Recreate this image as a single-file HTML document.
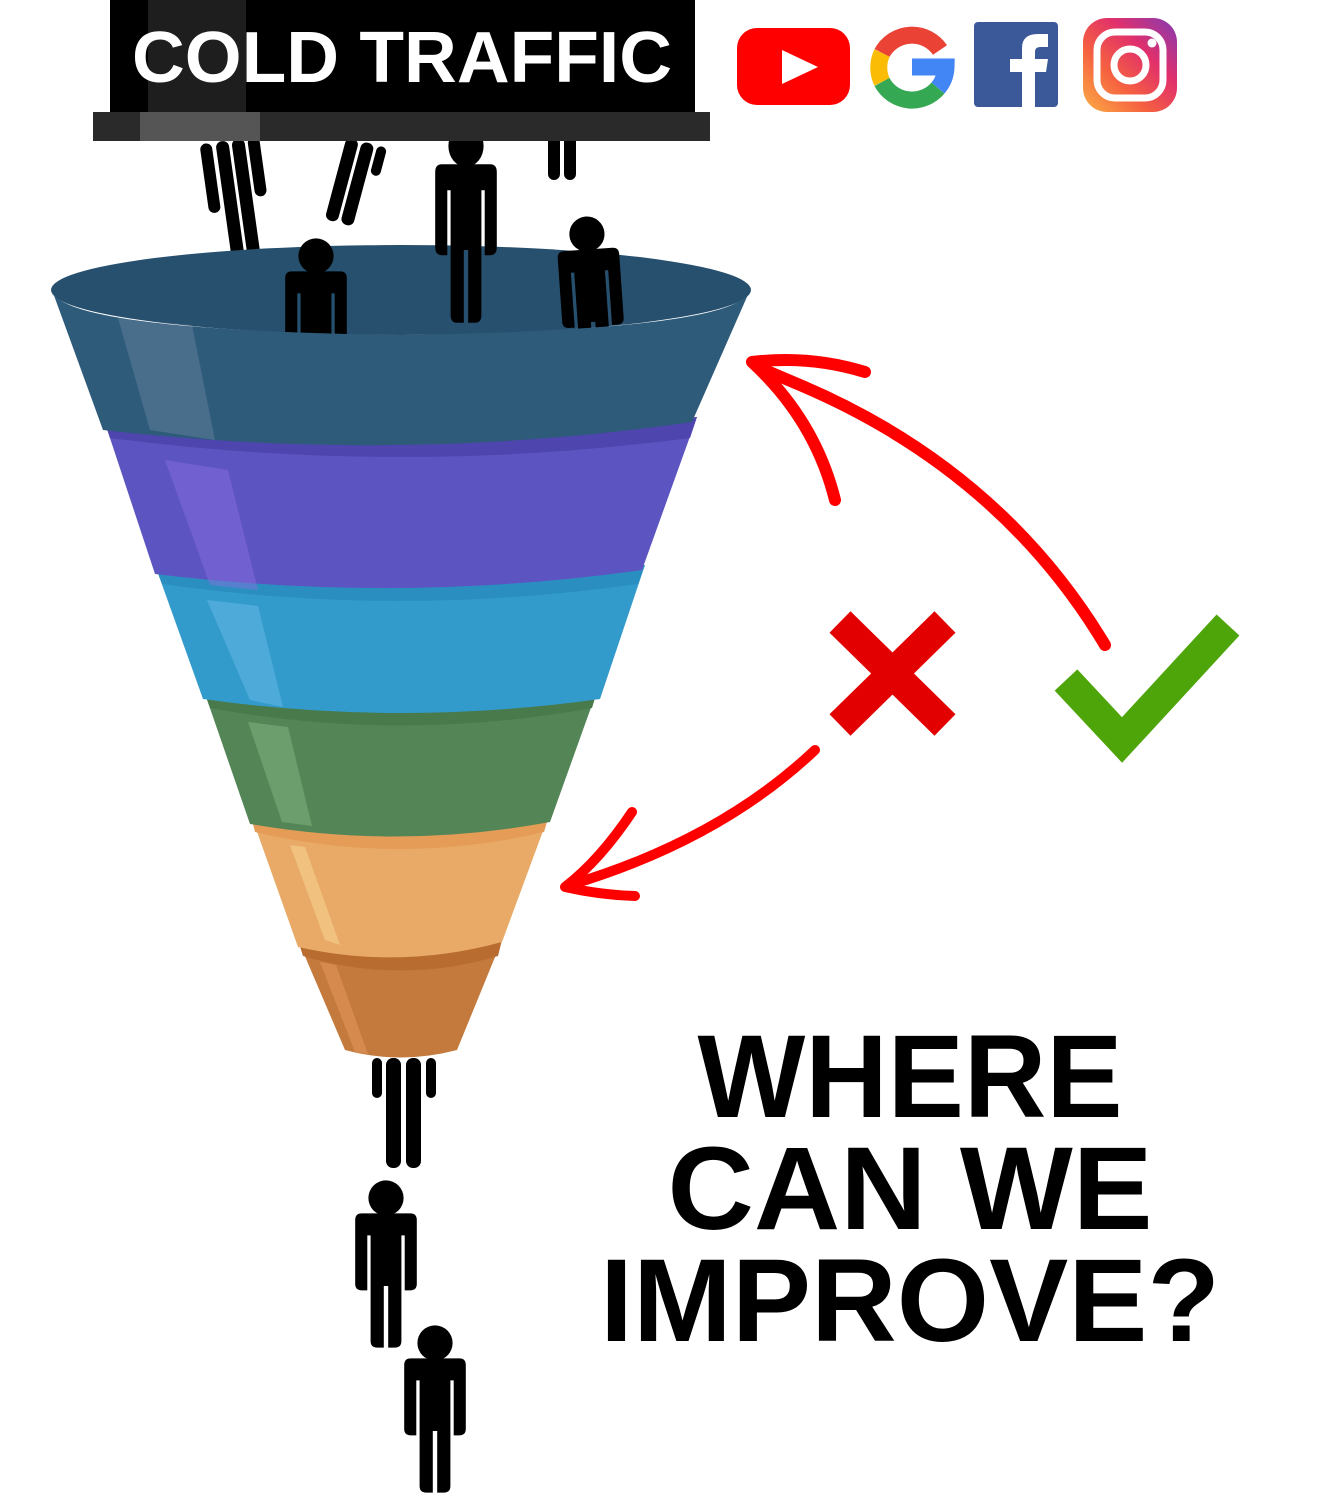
<!DOCTYPE html>
<html><head><meta charset="utf-8"><style>html,body{margin:0;padding:0;background:#fff}svg{display:block}</style></head><body>
<svg width="1328" height="1500" viewBox="0 0 1328 1500" xmlns="http://www.w3.org/2000/svg">
<defs>
<g id="p">
<circle cx="0" cy="-40" r="16"/>
<path d="M-28,-20 Q-28,-26 -22,-26 L22,-26 Q28,-26 28,-20 L28,38 Q28,44 22,44 L17,44 L17,-6 L14,-6 L14,90 Q14,96 8,96 L2,96 L2,40 L-2,40 L-2,96 L-8,96 Q-14,96 -14,90 L-14,-6 L-17,-6 L-17,44 L-22,44 Q-28,44 -28,38 Z"/>
</g>
<linearGradient id="ig" x1="0" y1="1" x2="1" y2="0"><stop offset="0" stop-color="#fcaf45"/><stop offset="0.35" stop-color="#f56040"/><stop offset="0.65" stop-color="#e1306c"/><stop offset="1" stop-color="#833ab4"/></linearGradient>
</defs>
<g fill="#000">
<g transform="translate(232,160) rotate(-8)"><rect x="-30" y="-20" width="12" height="70" rx="6"/><rect x="18" y="-20" width="12" height="60" rx="6"/><rect x="-14" y="-20" width="13" height="125" rx="6"/><rect x="2" y="-20" width="13" height="125" rx="6"/></g>
<g transform="translate(355,160) rotate(15)"><rect x="-14" y="-20" width="13" height="85" rx="6"/><rect x="2" y="-20" width="13" height="85" rx="6"/><rect x="18" y="-20" width="10" height="30" rx="5"/></g>
<g transform="translate(568,140)"><rect x="-20" y="-5" width="12" height="45" rx="6"/><rect x="-4" y="-5" width="12" height="45" rx="6"/></g>
</g>
<path d="M298,940 Q400,970 502,940 L457,1050 Q400,1065 345,1050 Z" fill="#c47a3c"/>
<path d="M298,940 Q400,970 502,940 L498,956 Q400,985 303,956 Z" fill="#b86c30"/>
<path d="M320,962 L355,1052 L368,1054 L336,965 Z" fill="#e5955a" opacity="0.6"/>
<path d="M250,812 Q400,847 550,812 L502,942 Q400,970 298,947 Z" fill="#e8aa66"/>
<path d="M250,812 Q400,847 550,812 L544,832 Q400,866 255,832 Z" fill="#e49c56"/>
<path d="M290,845 L325,940 L340,945 L305,847 Z" fill="#f6d28f" opacity="0.6"/>
<path d="M203,688 Q400,723 598,688 L550,822 Q400,850 250,824 Z" fill="#548557"/>
<path d="M203,688 Q400,723 598,688 L592,708 Q400,743 210,708 Z" fill="#487a4c"/>
<path d="M248,722 L282,822 L312,826 L288,727 Z" fill="#8fc08f" opacity="0.4"/>
<path d="M155,565 Q400,600 645,565 L600,699 Q400,727 203,699 Z" fill="#339bcc"/>
<path d="M155,565 Q400,600 645,565 L638,584 Q400,618 162,584 Z" fill="#2a8fc0"/>
<path d="M207,600 L250,700 L283,707 L258,606 Z" fill="#6fbfe8" opacity="0.45"/>
<path d="M103,417 Q400,457 697,417 L642,570 Q400,604 155,574 Z" fill="#5c55c1"/>
<path d="M103,417 Q400,457 697,417 L690,438 Q400,476 110,438 Z" fill="#4e45ae"/>
<path d="M165,460 L210,585 L258,590 L228,470 Z" fill="#8c6fe0" opacity="0.45"/>
<ellipse cx="401" cy="290" rx="350" ry="45" fill="#27506e"/>
<g fill="#000">
<use href="#p" transform="translate(466,198) scale(1.1,1.3)"/>
<use href="#p" transform="translate(316,300) scale(1.1)"/>
<use href="#p" transform="translate(590,278) rotate(-4) scale(1.1)"/>
</g>
<path d="M52,290 Q60,330 401,335 Q740,330 750,290 L692,422 Q400,464 103,430 Z" fill="#2f5b7b"/>
<path d="M118,318 L150,430 L215,440 L192,325 Z" fill="#fff" opacity="0.12"/>
<g fill="#000">
<rect x="372" y="1058" width="10" height="40" rx="5"/><rect x="426" y="1058" width="10" height="40" rx="5"/>
<rect x="386" y="1058" width="15" height="110" rx="7"/><rect x="406" y="1058" width="15" height="110" rx="7"/>
<use href="#p" transform="translate(386,1242) scale(1.1)"/>
<use href="#p" transform="translate(435,1387) scale(1.1)"/>
</g>
<rect x="110" y="0" width="585" height="112" fill="#000"/>
<rect x="148" y="0" width="98" height="112" fill="#1e1e1e"/>
<rect x="93" y="112" width="617" height="29" fill="#2a2a2a"/>
<rect x="140" y="112" width="120" height="29" fill="#555"/>
<text x="402" y="82" font-family="Liberation Sans, sans-serif" font-weight="bold" font-size="72" fill="#fff" text-anchor="middle" textLength="540" lengthAdjust="spacingAndGlyphs">COLD TRAFFIC</text>
<rect x="737" y="28" width="113" height="77" rx="20" fill="#f00"/>
<path d="M782,50 L818,67 L782,84 Z" fill="#fff"/>
<g fill="none" stroke-width="17">
<path d="M940,50 A34,34 0 0 0 882,53" stroke="#ea4335"/>
<path d="M882,53 A34,34 0 0 0 882,82" stroke="#fbbc05"/>
<path d="M882,82 A34,34 0 0 0 938,88" stroke="#34a853"/>
<path d="M938,88 A34,34 0 0 0 946,67 L912,67" stroke="#4285f4"/>
</g>
<rect x="974" y="22" width="84" height="85" rx="4" fill="#3b5998"/>
<path d="M1022,107 L1022,72 L1010,72 L1010,59 L1022,59 L1022,48 Q1022,34 1038,34 L1048,34 L1048,47 L1040,47 Q1035,47 1035,52 L1035,59 L1048,59 L1046,72 L1035,72 L1035,107 Z" fill="#fff"/>
<rect x="1083" y="18" width="94" height="94" rx="24" fill="url(#ig)"/>
<rect x="1097" y="32" width="66" height="66" rx="18" fill="none" stroke="#fff" stroke-width="7"/>
<circle cx="1130" cy="65" r="16" fill="none" stroke="#fff" stroke-width="7"/>
<circle cx="1152" cy="43" r="4.5" fill="#fff"/>
<g fill="none" stroke="#f00" stroke-linecap="round" stroke-linejoin="round">
<path d="M1105,645 Q1000,470 800,385 L760,368" stroke-width="12"/>
<path d="M835,500 Q815,420 752,362 Q810,355 865,372" stroke-width="12"/>
<path d="M815,750 Q720,840 570,885" stroke-width="10"/>
<path d="M632,812 Q600,860 565,887 Q600,895 635,896" stroke-width="10"/>
</g>
<g stroke="#e30000" stroke-width="30"><line x1="840" y1="622" x2="945" y2="725"/><line x1="945" y1="622" x2="840" y2="725"/></g>
<path d="M1066,680 L1122,740 L1228,625" fill="none" stroke="#4ea50a" stroke-width="31"/>
<g font-family="Liberation Sans, sans-serif" font-weight="bold" font-size="118" fill="#000" text-anchor="middle">
<text x="910" y="1117" textLength="425" lengthAdjust="spacingAndGlyphs">WHERE</text>
<text x="910" y="1229" textLength="485" lengthAdjust="spacingAndGlyphs">CAN WE</text>
<text x="910" y="1341" textLength="620" lengthAdjust="spacingAndGlyphs">IMPROVE?</text>
</g>
</svg>
</body></html>
